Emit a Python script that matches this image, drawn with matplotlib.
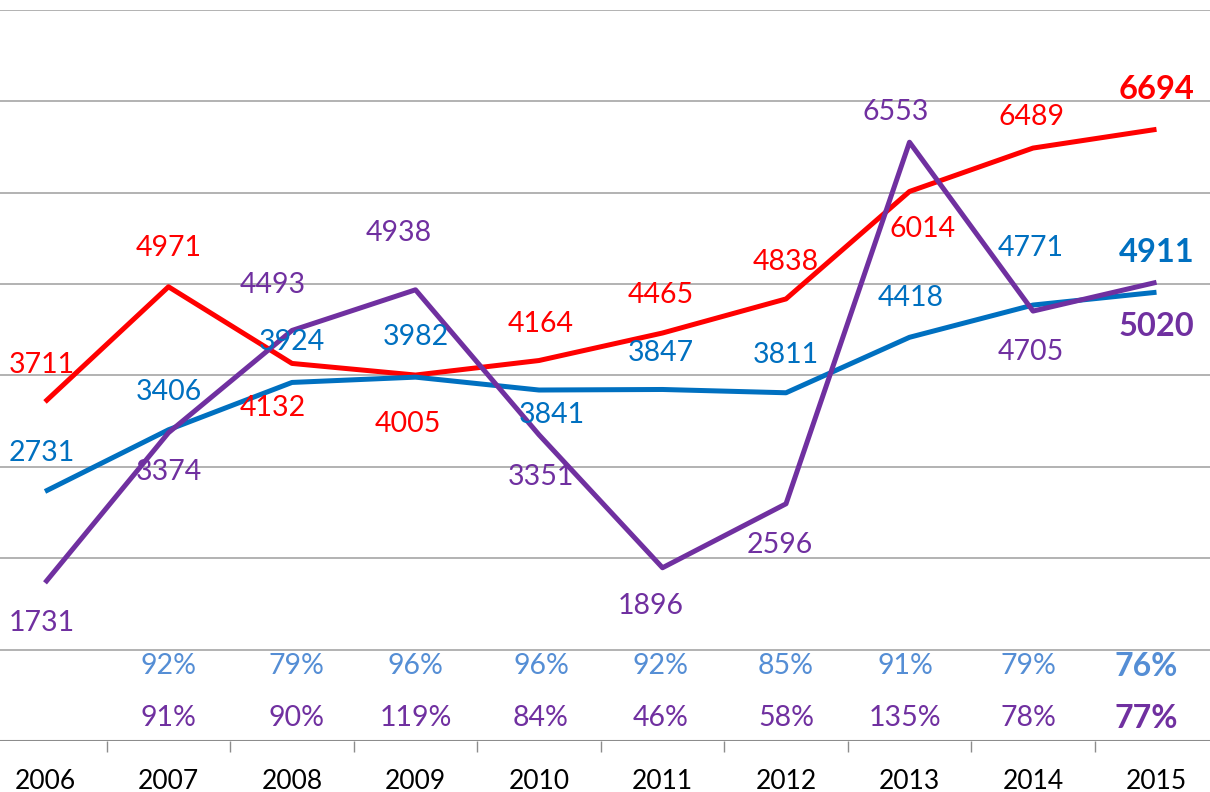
import numpy as np
import matplotlib.pyplot as plt

plt.rcParams['font.family'] = ['Lato', 'DejaVu Sans']

years = ['2006', '2007', '2008', '2009', '2010', '2011', '2012', '2013', '2014', '2015']
red = [3711, 4971, 4132, 4005, 4164, 4465, 4838, 6014, 6489, 6694]
blue = [2731, 3406, 3924, 3982, 3841, 3847, 3811, 4418, 4771, 4911]
purple = [1731, 3374, 4493, 4938, 3351, 1896, 2596, 6553, 4705, 5020]
pct_blue = ['', '92%', '79%', '96%', '96%', '92%', '85%', '91%', '79%', '76%']
pct_purple = ['', '91%', '90%', '119%', '84%', '46%', '58%', '135%', '78%', '77%']

# label offsets in pixels (dx, dy up)
red_off = [(-3, 37), (0, 39), (-19, -45), (-8, -49), (2, 37), (-2, 38), (0, 37), (13, -38), (-2, 31), (0, 40)]
blue_off = [(-3, 38), (0, 38), (0, 40), (0, 40), (13, -25), (-2, 36), (0, 38), (1, 39), (-2, 57), (0, 40)]
purple_off = [(-3, -40), (0, -39), (-19, 45), (-17, 57), (2, -42), (-12, -38), (-6, -41), (-14, 30), (-2, -41), (0, -44)]
pct_dx = [0, 0, 4, 0, 2, -2, 0, -4, -5, -10]

C_RED = '#FF0000'
C_BLUE = '#0070C0'
C_PURPLE = '#7030A0'
C_PCT = '#558ED5'

fig = plt.figure(figsize=(12.1, 7.92), dpi=100)
ax = fig.add_axes([-16.75 / 1210, 51 / 792, 1235 / 1210, 731 / 792])
x = np.arange(len(years))

for v in range(1000, 8001, 1000):
    ax.axhline(v, color='#a6a6a6', lw=1.2, zorder=0)
ax.axhline(0, color='#8c8c8c', lw=1.5, zorder=0)

series = [(red, C_RED, red_off), (blue, C_BLUE, blue_off), (purple, C_PURPLE, purple_off)]
for vals, col, offs in series:
    ax.plot(x, vals, color=col, lw=3.6, solid_capstyle='butt', zorder=3)
for vals, col, offs in series:
    for i, v in enumerate(vals):
        last = i == len(vals) - 1
        ax.annotate(str(v), (x[i], v), xytext=offs[i], textcoords='offset pixels',
                    ha='center', va='center', color=col,
                    fontsize=23.5 if last else 20.5,
                    fontweight='bold' if last else 'normal', zorder=4)

for i in range(len(years)):
    last = i == len(years) - 1
    ax.annotate(pct_blue[i], (x[i], 820), xytext=(pct_dx[i], 0), textcoords='offset pixels',
                ha='center', va='center', color=C_PCT, fontsize=23 if last else 20.5,
                fontweight='bold' if last else 'normal')
    ax.annotate(pct_purple[i], (x[i], 250), xytext=(pct_dx[i], 0), textcoords='offset pixels',
                ha='center', va='center', color=C_PURPLE, fontsize=23 if last else 20.5,
                fontweight='bold' if last else 'normal')

ax.set_xlim(-0.5, len(years) - 0.5)
ax.set_ylim(0, 8000)
for s in ax.spines.values():
    s.set_visible(False)
ax.set_yticks([])
ax.set_xticks(np.arange(-0.5, len(years), 1.0))
ax.set_xticklabels([])
ax.tick_params(axis='x', which='major', length=8, width=1, color='#8c8c8c', direction='out')
ax.set_xticks(x, minor=True)
ax.set_xticklabels(years, minor=True, fontsize=19)
ax.tick_params(axis='x', which='minor', length=0, pad=20)

fig.savefig('out.png', dpi=100)
